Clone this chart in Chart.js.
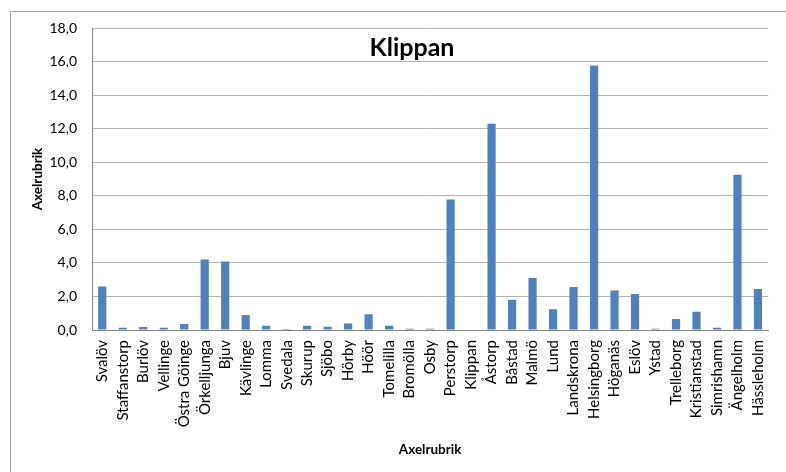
<!DOCTYPE html>
<html>
<head>
<meta charset="utf-8">
<script src="https://cdn.jsdelivr.net/npm/chart.js@4.4.0/dist/chart.umd.min.js"></script>
<style>
  html, body { margin: 0; padding: 0; background: #fff; }
  #wrap { width: 786px; height: 472px; position: relative; }
</style>
</head>
<body>
<div id="wrap"><canvas id="chart"></canvas></div>
<script>
const chartTitle = "Klippan";
const axisTitle = "Axelrubrik";

const municipalities = [
    "Svalöv", "Staffanstorp", "Burlöv", "Vellinge", "Östra Göinge", "Örkelljunga",
    "Bjuv", "Kävlinge", "Lomma", "Svedala", "Skurup", "Sjöbo", "Hörby", "Höör",
    "Tomelilla", "Bromölla", "Osby", "Perstorp", "Klippan", "Åstorp", "Båstad",
    "Malmö", "Lund", "Landskrona", "Helsingborg", "Höganäs", "Eslöv", "Ystad",
    "Trelleborg", "Kristianstad", "Simrishamn", "Ängelholm", "Hässleholm"
];

const values = [
    2.6, 0.14, 0.18, 0.14, 0.36, 4.2,
    4.08, 0.9, 0.26, 0.06, 0.26, 0.2, 0.38, 0.94,
    0.26, 0.08, 0.08, 7.78, 0, 12.3, 1.81,
    3.1, 1.23, 2.57, 15.76, 2.35, 2.15, 0.08,
    0.66, 1.09, 0.14, 9.25, 2.45
];

const yMin = 0;
const yMax = 18;
const yStep = 2;

const fontFamily = "Lato, 'Liberation Sans', sans-serif";

// outer frame and the title that sits inside the plot
const framePlugin = {
    id: "frame",
    afterDraw(chart) {
        const ctx = chart.ctx;
        ctx.save();
        ctx.strokeStyle = "#a6a6a6";
        ctx.lineWidth = 1;
        ctx.strokeRect(10.5, 11.5, 800, 500);
        ctx.fillStyle = "#000";
        ctx.font = "bold 25px " + fontFamily;
        ctx.textAlign = "center";
        ctx.textBaseline = "middle";
        ctx.fillText(chartTitle, 412, 48);
        ctx.restore();
    }
};

const ctx = document.getElementById("chart").getContext("2d");

new Chart(ctx, {
    type: "bar",
    data: {
        labels: municipalities,
        datasets: [{
            data: values,
            backgroundColor: "#4f81bd",
            borderWidth: 0,
            barPercentage: 0.4,
            categoryPercentage: 1.0
        }]
    },
    options: {
        responsive: true,
        maintainAspectRatio: false,
        animation: false,
        layout: {
            padding: { left: 10, top: 28, right: 2, bottom: 0 }
        },
        plugins: {
            legend: { display: false },
            tooltip: { enabled: false }
        },
        scales: {
            x: {
                afterFit(scale) { scale.height = 142; },
                grid: { display: false, drawTicks: false },
                border: { display: true, color: "#868686" },
                ticks: {
                    color: "#000",
                    font: { family: fontFamily, size: 15 },
                    minRotation: 90,
                    maxRotation: 90,
                    autoSkip: false,
                    padding: 10
                },
                title: {
                    display: true,
                    text: axisTitle,
                    color: "#000",
                    font: { family: fontFamily, size: 13.5, weight: "bold" },
                    padding: { top: 0, bottom: 14 }
                }
            },
            y: {
                min: yMin,
                max: yMax,
                afterFit(scale) { scale.width = 82; },
                grid: { color: "#b3b3b3", drawTicks: false },
                border: { display: true, color: "#868686" },
                ticks: {
                    stepSize: yStep,
                    color: "#000",
                    font: { family: fontFamily, size: 14 },
                    padding: 15,
                    callback: v => v.toFixed(1).replace(".", ",")
                },
                title: {
                    display: true,
                    text: axisTitle,
                    color: "#000",
                    font: { family: fontFamily, size: 13.5, weight: "bold" },
                    padding: { top: 20, bottom: 0 }
                }
            }
        }
    },
    plugins: [framePlugin]
});
</script>
</body>
</html>
